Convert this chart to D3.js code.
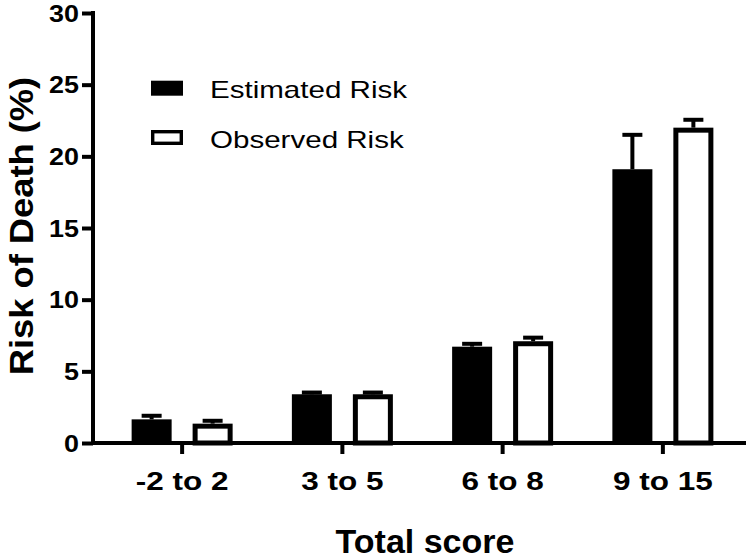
<!DOCTYPE html>
<html>
<head>
<meta charset="utf-8">
<script src="https://cdn.jsdelivr.net/npm/d3@7"></script>
<style>
  html, body { margin: 0; padding: 0; background: #fff; }
  svg { display: block; }
  text { font-family: "Liberation Sans", Arial, Helvetica, sans-serif; fill: #000; }
</style>
</head>
<body>
<svg id="chart" width="750" height="559"></svg>
<script>
const categories = ["-2 to 2", "3 to 5", "6 to 8", "9 to 15"];
const series = ["Estimated Risk", "Observed Risk"];
const estimated = [1.65, 3.4, 6.72, 19.1];
const estimatedErr = [0.25, 0.12, 0.2, 2.4];
const observed = [1.35, 3.4, 7.1, 22.0];
const observedErr = [0.2, 0.12, 0.25, 0.55];
const yTicks = [0, 5, 10, 15, 20, 25, 30];

const svg = d3.select("#chart");
const plot = { left: 93, right: 746, top: 13, bottom: 443 };

const y = d3.scaleLinear().domain([0, 30]).range([plot.bottom, plot.top]);
const x = d3.scaleBand().domain(categories).range([102, 743]).paddingInner(0).paddingOuter(0);
const bw = x.bandwidth();
const xs = d3.scaleBand().domain(series).range([bw / 2 - 50.5, bw / 2 + 50.5]).paddingInner(0.344).paddingOuter(0);
const barW = xs.bandwidth();

const data = categories.map((c, i) => [
  { cat: c, s: series[0], v: estimated[i], e: estimatedErr[i] },
  { cat: c, s: series[1], v: observed[i], e: observedErr[i] }
]).flat();

// bars
const g = svg.append("g");
g.selectAll("rect.bar").data(data).enter().append("rect")
  .attr("class", "bar")
  .each(function (d) {
    const x0 = x(d.cat) + xs(d.s);
    const y0 = y(d.v);
    const sel = d3.select(this);
    if (d.s === series[0]) {
      sel.attr("x", x0).attr("y", y0).attr("width", barW).attr("height", y(0) - y0)
        .attr("fill", "#000");
    } else {
      const sw = 5;
      sel.attr("x", x0 + sw / 2).attr("y", y0 + sw / 2).attr("width", barW - sw).attr("height", y(0) - y0 - sw / 2)
        .attr("fill", "#fff").attr("stroke", "#000").attr("stroke-width", sw);
    }
  });

// error bars (upper only)
const eb = g.selectAll("g.err").data(data).enter().append("g").attr("class", "err");
eb.append("line")
  .attr("x1", d => x(d.cat) + xs(d.s) + barW / 2)
  .attr("x2", d => x(d.cat) + xs(d.s) + barW / 2)
  .attr("y1", d => y(d.v))
  .attr("y2", d => y(d.v + d.e))
  .attr("stroke", "#000").attr("stroke-width", 4);
eb.append("line")
  .attr("x1", d => x(d.cat) + xs(d.s) + barW / 2 - 10)
  .attr("x2", d => x(d.cat) + xs(d.s) + barW / 2 + 10)
  .attr("y1", d => y(d.v + d.e))
  .attr("y2", d => y(d.v + d.e))
  .attr("stroke", "#000").attr("stroke-width", 4);

// y axis
const ySX = 1.17;
const yAxis = d3.axisLeft(y).tickValues(yTicks).tickSize(11).tickPadding(3).tickFormat(d3.format("d"));
const gy = svg.append("g").attr("transform", `translate(${plot.left},0)`).call(yAxis);
gy.select(".domain").remove();
gy.append("line").attr("x1", 0).attr("x2", 0).attr("y1", plot.top - 2).attr("y2", plot.bottom + 2)
  .attr("stroke", "#000").attr("stroke-width", 4);
gy.selectAll(".tick line").attr("stroke", "#000").attr("stroke-width", 4);
gy.selectAll(".tick text").attr("font-size", 23).attr("font-weight", "bold")
  .attr("font-family", "Liberation Sans, Arial, sans-serif").attr("dy", "0.36em")
  .attr("x", -14 / ySX).attr("transform", `scale(${ySX},1)`);

// x axis
const xSX = 1.26;
const xAxis = d3.axisBottom(x).tickSize(11).tickPadding(18);
const gx = svg.append("g").attr("transform", `translate(0,${plot.bottom})`).call(xAxis);
gx.select(".domain").remove();
gx.append("line").attr("x1", plot.left - 2).attr("x2", plot.right).attr("y1", 0).attr("y2", 0)
  .attr("stroke", "#000").attr("stroke-width", 4);
gx.selectAll(".tick line").attr("stroke", "#000").attr("stroke-width", 4);
gx.selectAll(".tick text").attr("font-size", 25).attr("font-weight", "bold")
  .attr("font-family", "Liberation Sans, Arial, sans-serif")
  .attr("transform", `scale(${xSX},1)`);

// axis titles
svg.append("text").attr("x", 425).attr("y", 553)
  .attr("text-anchor", "middle").attr("font-size", 34).attr("font-weight", "bold")
  .text("Total score");
svg.append("text").attr("transform", `translate(33,226) rotate(-90) scale(1.1,1)`)
  .attr("text-anchor", "middle").attr("font-size", 33).attr("font-weight", "bold")
  .text("Risk of Death (%)");

// legend
const legend = svg.append("g");
const legRect = [80.7, 130];
const legBase = [98.5, 148.5];
const lSX = 1.285;
series.forEach((s, i) => {
  if (i === 0) {
    legend.append("rect").attr("x", 151).attr("y", legRect[i]).attr("width", 32).attr("height", 15).attr("fill", "#000");
  } else {
    legend.append("rect").attr("x", 152.7).attr("y", legRect[i] + 1.7).attr("width", 28.6).attr("height", 11.6)
      .attr("fill", "#fff").attr("stroke", "#000").attr("stroke-width", 3.4);
  }
  legend.append("text").attr("x", 210 / lSX).attr("y", legBase[i])
    .attr("transform", `scale(${lSX},1)`)
    .attr("font-size", 23).text(s);
});
</script>
</body>
</html>
